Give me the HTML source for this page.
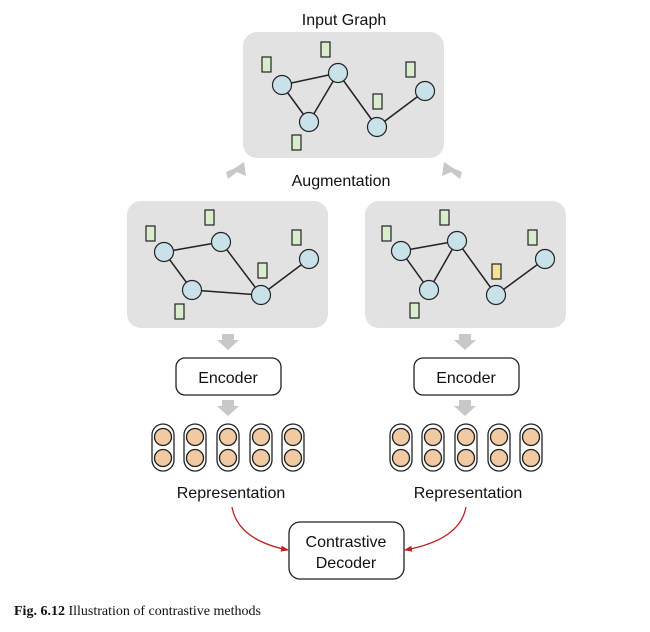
<!DOCTYPE html><html><head><style>body{margin:0;background:#fff}svg{display:block}</style></head><body>
<svg width="650" height="632" viewBox="0 0 650 632" xmlns="http://www.w3.org/2000/svg" font-family="Liberation Sans, sans-serif">
<defs>
<marker id="ar" markerWidth="8" markerHeight="8" refX="7" refY="4" orient="auto" markerUnits="userSpaceOnUse"><path d="M0,1 L8,4 L0,7 Z" fill="#b22"/></marker>
<g id="dn"><path d="M-6,-8 H6 V-2 H11 L0,8 L-11,-2 H-6 Z" fill="#c8c8c8"/></g>
</defs>
<text x="344" y="25" font-size="16" text-anchor="middle" fill="#111">Input Graph</text>
<rect x="243" y="32" width="201" height="126" rx="14" fill="#e2e2e2"/>
<g stroke="#222" stroke-width="1.5">
<line x1="282" y1="85" x2="338" y2="73"/><line x1="282" y1="85" x2="309" y2="122"/><line x1="309" y1="122" x2="338" y2="73"/><line x1="338" y1="73" x2="377" y2="127"/><line x1="377" y1="127" x2="425" y2="91"/>
</g>
<g fill="#c9e2ea" stroke="#222" stroke-width="1.2">
<circle cx="282" cy="85" r="9.5"/><circle cx="338" cy="73" r="9.5"/><circle cx="309" cy="122" r="9.5"/><circle cx="377" cy="127" r="9.5"/><circle cx="425" cy="91" r="9.5"/>
</g>
<g fill="#d9edcc" stroke="#222" stroke-width="1.2">
<rect x="262" y="57" width="9" height="15"/><rect x="321" y="42" width="9" height="15"/><rect x="406" y="62" width="9" height="15"/><rect x="373" y="94" width="9" height="15"/><rect x="292" y="135" width="9" height="15"/>
</g>
<path d="M232,170 L244,162 L246,176 Z M240,166 L237,172 L228,179 L226,172 Z" fill="#c8c8c8"/>
<path d="M456,170 L444,162 L442,176 Z M448,166 L451,172 L460,179 L462,172 Z" fill="#c8c8c8"/>
<text x="341" y="186" font-size="16" text-anchor="middle" fill="#111">Augmentation</text>
<rect x="127" y="201" width="201" height="127" rx="14" fill="#e2e2e2"/>
<rect x="365" y="201" width="201" height="127" rx="14" fill="#e2e2e2"/>
<g stroke="#222" stroke-width="1.5">
<line x1="164" y1="252" x2="221" y2="242"/><line x1="164" y1="252" x2="192" y2="290"/><line x1="192" y1="290" x2="261" y2="295"/><line x1="221" y1="242" x2="261" y2="295"/><line x1="261" y1="295" x2="309" y2="259"/>
<line x1="401" y1="251" x2="457" y2="241"/><line x1="401" y1="251" x2="429" y2="290"/><line x1="429" y1="290" x2="457" y2="241"/><line x1="457" y1="241" x2="496" y2="295"/><line x1="496" y1="295" x2="545" y2="259"/>
</g>
<g fill="#c9e2ea" stroke="#222" stroke-width="1.2">
<circle cx="164" cy="252" r="9.5"/><circle cx="221" cy="242" r="9.5"/><circle cx="192" cy="290" r="9.5"/><circle cx="261" cy="295" r="9.5"/><circle cx="309" cy="259" r="9.5"/>
<circle cx="401" cy="251" r="9.5"/><circle cx="457" cy="241" r="9.5"/><circle cx="429" cy="290" r="9.5"/><circle cx="496" cy="295" r="9.5"/><circle cx="545" cy="259" r="9.5"/>
</g>
<g fill="#d9edcc" stroke="#222" stroke-width="1.2">
<rect x="146" y="226" width="9" height="15"/><rect x="205" y="210" width="9" height="15"/><rect x="292" y="230" width="9" height="15"/><rect x="258" y="263" width="9" height="15"/><rect x="175" y="304" width="9" height="15"/>
<rect x="382" y="226" width="9" height="15"/><rect x="440" y="210" width="9" height="15"/><rect x="528" y="230" width="9" height="15"/><rect x="410" y="303" width="9" height="15"/>
</g>
<rect x="492" y="264" width="9" height="15" fill="#f3e29c" stroke="#222" stroke-width="1.2"/>
<use href="#dn" x="228" y="342"/><use href="#dn" x="228" y="408"/><use href="#dn" x="465" y="342"/><use href="#dn" x="465" y="408"/>
<g fill="#fff" stroke="#222" stroke-width="1.3">
<rect x="176" y="358" width="105" height="37" rx="9"/><rect x="414" y="358" width="105" height="37" rx="9"/>
</g>
<text x="228" y="383" font-size="16" text-anchor="middle" fill="#111">Encoder</text>
<text x="466" y="383" font-size="16" text-anchor="middle" fill="#111">Encoder</text>
<g stroke="#222" stroke-width="1.3">
<g fill="#fff">
<rect x="152" y="424" width="22" height="47" rx="11"/><rect x="184" y="424" width="22" height="47" rx="11"/><rect x="217" y="424" width="22" height="47" rx="11"/><rect x="250" y="424" width="22" height="47" rx="11"/><rect x="282" y="424" width="22" height="47" rx="11"/>
<rect x="390" y="424" width="22" height="47" rx="11"/><rect x="422" y="424" width="22" height="47" rx="11"/><rect x="455" y="424" width="22" height="47" rx="11"/><rect x="488" y="424" width="22" height="47" rx="11"/><rect x="520" y="424" width="22" height="47" rx="11"/>
</g>
<g fill="#f1c9a3">
<circle cx="163" cy="437" r="8.5"/><circle cx="163" cy="458" r="8.5"/><circle cx="195" cy="437" r="8.5"/><circle cx="195" cy="458" r="8.5"/><circle cx="228" cy="437" r="8.5"/><circle cx="228" cy="458" r="8.5"/><circle cx="261" cy="437" r="8.5"/><circle cx="261" cy="458" r="8.5"/><circle cx="293" cy="437" r="8.5"/><circle cx="293" cy="458" r="8.5"/>
<circle cx="401" cy="437" r="8.5"/><circle cx="401" cy="458" r="8.5"/><circle cx="433" cy="437" r="8.5"/><circle cx="433" cy="458" r="8.5"/><circle cx="466" cy="437" r="8.5"/><circle cx="466" cy="458" r="8.5"/><circle cx="499" cy="437" r="8.5"/><circle cx="499" cy="458" r="8.5"/><circle cx="531" cy="437" r="8.5"/><circle cx="531" cy="458" r="8.5"/>
</g></g>
<text x="231" y="498" font-size="16" text-anchor="middle" fill="#111">Representation</text>
<text x="468" y="498" font-size="16" text-anchor="middle" fill="#111">Representation</text>
<rect x="289" y="522" width="115" height="57" rx="11" fill="#fff" stroke="#222" stroke-width="1.3"/>
<text x="346" y="547" font-size="16" text-anchor="middle" fill="#111">Contrastive</text>
<text x="346" y="568" font-size="16" text-anchor="middle" fill="#111">Decoder</text>
<path d="M232,507 Q238,540 288,550" fill="none" stroke="#b22" stroke-width="1.3" marker-end="url(#ar)"/>
<path d="M466,507 Q460,540 405,550" fill="none" stroke="#b22" stroke-width="1.3" marker-end="url(#ar)"/>
<text x="14" y="615" font-family="Liberation Serif, serif" font-size="14" fill="#111"><tspan font-weight="bold">Fig. 6.12</tspan>  Illustration of contrastive methods</text>
</svg>
</body></html>
